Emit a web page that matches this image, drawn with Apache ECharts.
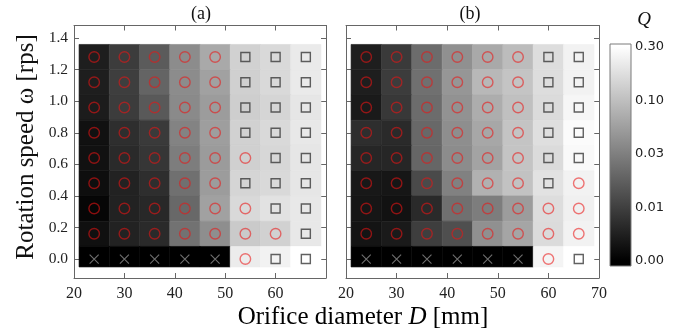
<!DOCTYPE html>
<html><head><meta charset="utf-8">
<script src="https://cdn.jsdelivr.net/npm/echarts/dist/echarts.min.js"></script>
<style>html,body{margin:0;padding:0;background:#fff}#c{width:683px;height:333px}</style>
</head><body><div id="c"></div>
<script>
// ---------------- data ----------------
const D_VALUES = [24, 30, 36, 42, 48, 54, 60, 66];              // orifice diameter [mm]
const OMEGA_VALUES = [1.28, 1.12, 0.96, 0.80, 0.64, 0.48, 0.32, 0.16, 0.00]; // rows, top to bottom [rps]
// Q values, panel (a)
const Q_A = [
  [0.0047, 0.0094, 0.0161, 0.0382, 0.0657, 0.135, 0.156, 0.209],
  [0.0047, 0.0097, 0.0186, 0.0382, 0.0569, 0.133, 0.156, 0.209],
  [0.0044, 0.0094, 0.0155, 0.0369, 0.0510, 0.128, 0.145, 0.194],
  [0.0027, 0.0072, 0.0091, 0.0319, 0.0529, 0.135, 0.156, 0.201],
  [0.0027, 0.0066, 0.0085, 0.0286, 0.0501, 0.133, 0.151, 0.194],
  [0.0022, 0.0053, 0.0072, 0.0231, 0.0510, 0.145, 0.156, 0.194],
  [0.0009, 0.0053, 0.0063, 0.0200, 0.0569, 0.156, 0.181, 0.201],
  [0.0025, 0.0053, 0.0066, 0.0239, 0.0396, 0.121, 0.135, 0.201],
  [0, 0, 0, 0, 0, 0.216, 0.241, 0.300]
];
// Q values, panel (b)
const Q_B = [
  [0.0047, 0.0091, 0.0214, 0.0411, 0.0657, 0.0943, 0.168, 0.241],
  [0.0047, 0.0094, 0.0231, 0.0458, 0.0877, 0.109, 0.168, 0.241],
  [0.0041, 0.0088, 0.0214, 0.0426, 0.0706, 0.101, 0.162, 0.259],
  [0.0072, 0.0066, 0.0200, 0.0396, 0.0634, 0.109, 0.174, 0.279],
  [0.0060, 0.0060, 0.0192, 0.0382, 0.0590, 0.109, 0.162, 0.269],
  [0.0038, 0.0035, 0.0120, 0.0308, 0.0760, 0.105, 0.181, 0.241],
  [0.0035, 0.0028, 0.0066, 0.0231, 0.0286, 0.0510, 0.168, 0.233],
  [0.0031, 0.0041, 0.0097, 0.0129, 0.0411, 0.0611, 0.162, 0.241],
  [0, 0, 0, 0, 0, 0, 0.250, 0.300]
];
// markers: o = red circle, s = square, x = cross
const MARK_A = ['ooooosss','ooooosss','ooooosss','ooooosss','ooooooss','ooooosss','ooooooss','ooooooos','xxxxxoss'];
const MARK_B = ['ooooooss','ooooooss','ooooooss','ooooooss','ooooooss','ooooooso','oooooooo','oooooooo','xxxxxxos'];
// colorbar ticks
const CB_TICK_VALUES = [0, 0.01, 0.03, 0.10, 0.30];
const CB_TICK_LABELS = ['0.00', '0.01', '0.03', '0.10', '0.30'];

// ---------------- helpers ----------------
const CELL_HALF_W = 3, CELL_HALF_H = 0.08, CELL_FLOOR = -0.05;
const CB_MIN = -0.1, CB_MAX = 4.05;
function qToT(q) {
  const v = CB_TICK_VALUES;
  if (q <= v[1]) return q / v[1];
  for (let i = 1; i < v.length - 1; i++) {
    if (q <= v[i + 1]) return i + Math.log(q / v[i]) / Math.log(v[i + 1] / v[i]);
  }
  const n = v.length - 1;
  return n - 1 + Math.log(q / v[n - 1]) / Math.log(v[n] / v[n - 1]);
}
function grayOfT(t) {
  const g = Math.round(Math.max(0, Math.min(1, t / 4)) * 255);
  return 'rgb(' + g + ',' + g + ',' + g + ')';
}
function cellData(Q) {
  const out = [];
  OMEGA_VALUES.forEach((w, r) => D_VALUES.forEach((d, c) => out.push([d, w, Q[r][c]])));
  return out;
}
function markData(M, ch) {
  const out = [];
  OMEGA_VALUES.forEach((w, r) => D_VALUES.forEach((d, c) => { if (M[r][c] === ch) out.push([d, w]); }));
  return out;
}
function renderCell(params, api) {
  const x = api.value(0), y = api.value(1), q = api.value(2);
  const p1 = api.coord([x - CELL_HALF_W, y + CELL_HALF_H]);
  const p2 = api.coord([x + CELL_HALF_W, Math.max(y - CELL_HALF_H, CELL_FLOOR)]);
  const c = grayOfT(qToT(q));
  return { type: 'rect', shape: { x: p1[0], y: p1[1], width: p2[0] - p1[0], height: p2[1] - p1[1] },
           style: { fill: c, stroke: c, lineWidth: 0.6 } };
}

const SERIF = 'Liberation Serif';
const FRAME = '#666666';
function xAx(gi, pos, showLabels, showMax) {
  return { type: 'value', gridIndex: gi, position: pos, min: 20, max: 70, interval: 10,
    axisLine: { show: true, onZero: false, lineStyle: { color: FRAME, width: 1 } },
    axisTick: { show: true, inside: true, length: 5, lineStyle: { color: FRAME } },
    axisLabel: { show: showLabels, showMaxLabel: showMax, margin: 8, fontFamily: SERIF, fontSize: 16, color: '#222' },
    splitLine: { show: false } };
}
function yAx(gi, pos, showLabels) {
  return { type: 'value', gridIndex: gi, position: pos, min: -0.12, max: 1.48, splitNumber: 8,
    axisLine: { show: true, onZero: false, lineStyle: { color: FRAME, width: 1 } },
    axisTick: { show: true, inside: true, length: 5, lineStyle: { color: FRAME } },
    axisLabel: { show: showLabels, showMinLabel: false, showMaxLabel: false, margin: 6, fontFamily: SERIF, fontSize: 15.5, color: '#222',
                 formatter: v => v.toFixed(1) },
    splitLine: { show: false } };
}
function panelSeries(Q, M, xi, yi) {
  const common = { type: 'scatter', xAxisIndex: xi, yAxisIndex: yi, silent: true, z: 5, animation: false };
  return [
    { type: 'custom', xAxisIndex: xi, yAxisIndex: yi, data: cellData(Q), renderItem: renderCell, silent: true, z: 2, animation: false },
    Object.assign({}, common, { data: markData(M, 'o'), symbol: 'circle', symbolSize: 10.5,
      itemStyle: { color: 'rgba(0,0,0,0)', borderColor: 'rgba(235,20,20,0.72)', borderWidth: 1.4 } }),
    Object.assign({}, common, { data: markData(M, 's'), symbol: 'rect', symbolSize: 9,
      itemStyle: { color: 'rgba(0,0,0,0)', borderColor: '#3a3a3a', borderWidth: 1.4 } }),
    Object.assign({}, common, { data: markData(M, 'x'), symbol: 'path://M0,0L10,10M0,10L10,0', symbolSize: 9,
      itemStyle: { color: 'rgba(0,0,0,0)', borderColor: '#8a8a8a', borderWidth: 1.1 } })
  ];
}

const chart = echarts.init(document.getElementById('c'), null, { renderer: 'canvas' });
chart.setOption({
  backgroundColor: '#ffffff',
  animation: false,
  grid: [
    { left: 74, top: 25.5, width: 252, height: 252.5, outerBoundsMode: 'none' },
    { left: 346, top: 25.5, width: 253, height: 252.5, outerBoundsMode: 'none' },
    { left: 610, top: 44, width: 21, height: 222, outerBoundsMode: 'none' }
  ],
  xAxis: [
    xAx(0, 'bottom', true, false), xAx(0, 'top', false, false),
    xAx(1, 'bottom', true, true), xAx(1, 'top', false, false),
    { type: 'value', gridIndex: 2, min: 0, max: 1, show: false }
  ],
  yAxis: [
    yAx(0, 'left', true), yAx(0, 'right', false),
    yAx(1, 'left', false), yAx(1, 'right', false),
    { type: 'value', gridIndex: 2, position: 'right', min: CB_MIN, max: CB_MAX, splitNumber: 4,
      axisLine: { show: false }, axisTick: { show: false }, splitLine: { show: false },
      axisLabel: { showMinLabel: false, showMaxLabel: false, margin: 4, fontFamily: 'DejaVu Sans', fontSize: 13, color: '#222',
        formatter: v => { const i = Math.round(v); return (Math.abs(v - i) < 1e-6 && CB_TICK_LABELS[i]) ? CB_TICK_LABELS[i] : ''; } } }
  ],
  series: [
    ...panelSeries(Q_A, MARK_A, 0, 0),
    ...panelSeries(Q_B, MARK_B, 2, 2),
    { type: 'custom', xAxisIndex: 4, yAxisIndex: 4, data: [[0]], silent: true, animation: false,
      renderItem: (params, api) => {
        const p1 = api.coord([0, CB_MAX]), p2 = api.coord([1, CB_MIN]);
        const span = CB_MAX - CB_MIN;
        return { type: 'rect', shape: { x: p1[0], y: p1[1], width: p2[0] - p1[0], height: p2[1] - p1[1] },
          style: { stroke: '#7a7a7a', lineWidth: 1,
            fill: new echarts.graphic.LinearGradient(0, 0, 0, 1, [
              { offset: 0, color: grayOfT(CB_MAX) },
              { offset: (CB_MAX - 4) / span, color: grayOfT(4) },
              { offset: (CB_MAX - 0) / span, color: grayOfT(0) },
              { offset: 1, color: grayOfT(0) }
            ]) } };
      } }
  ],
  graphic: [
    { type: 'text', x: 201, y: 14, style: { text: '(a)', font: '18px "Liberation Serif"', fill: '#111', textAlign: 'center', textVerticalAlign: 'middle' } },
    { type: 'text', x: 470, y: 14, style: { text: '(b)', font: '18px "Liberation Serif"', fill: '#111', textAlign: 'center', textVerticalAlign: 'middle' } },
    { type: 'text', x: 644, y: 20, style: { text: 'Q', font: 'italic 19px "Liberation Serif"', fill: '#111', textAlign: 'center', textVerticalAlign: 'middle' } },
    { type: 'text', x: 26, y: 147, rotation: Math.PI / 2,
      style: { text: 'Rotation speed ω [rps]', font: '25px "Liberation Serif"', fill: '#111', textAlign: 'center', textVerticalAlign: 'middle' } },
    { type: 'text', x: 363, y: 317,
      style: { text: '{n|Orifice diameter }{i|D}{n| [mm]}', textAlign: 'center', textVerticalAlign: 'middle',
        rich: { n: { fontFamily: SERIF, fontSize: 25, color: '#111' }, i: { fontFamily: SERIF, fontStyle: 'italic', fontSize: 25, color: '#111' } } } }
  ]
});
</script></body></html>
